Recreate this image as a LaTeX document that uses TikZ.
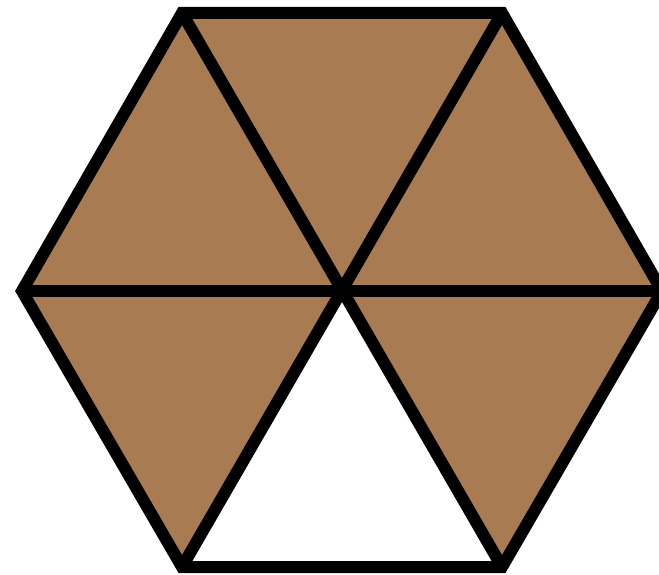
\documentclass[tikz,border=0pt]{standalone}
\definecolor{brownfill}{HTML}{A87B52}
\begin{document}
\begin{tikzpicture}[x=1pt,y=-1pt,
  tri/.style={fill=brownfill},
  edge/.style={line width=12pt,line join=miter,black}]
\useasboundingbox (0,0) rectangle (659,575);
\coordinate (TL) at (182,13);
\coordinate (TR) at (502,13);
\coordinate (R) at (662,291);
\coordinate (BR) at (502,567);
\coordinate (BL) at (182,567);
\coordinate (L) at (22,291);
\coordinate (C) at (342,291);
\fill[tri] (TL) -- (TR) -- (C) -- cycle;
\fill[tri] (TR) -- (R) -- (C) -- cycle;
\fill[tri] (R) -- (BR) -- (C) -- cycle;
\fill[tri] (BL) -- (L) -- (C) -- cycle;
\fill[tri] (L) -- (TL) -- (C) -- cycle;
\draw[edge] (TL) -- (TR) -- (R) -- (BR) -- (BL) -- (L) -- cycle;
\draw[edge] (TL) -- (BR);
\draw[edge] (TR) -- (BL);
\draw[edge] (L) -- (R);
\end{tikzpicture}
\end{document}
